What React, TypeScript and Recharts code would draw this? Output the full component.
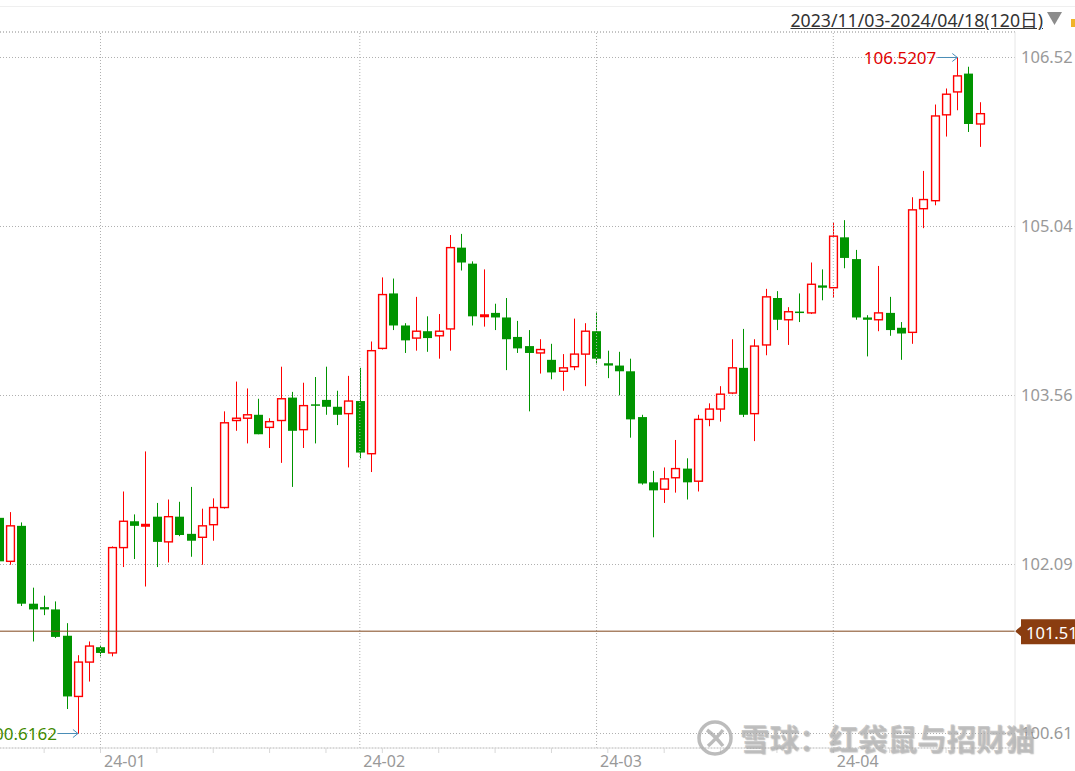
import React from "react";
import {
  ComposedChart,
  Bar,
  XAxis,
  YAxis,
  CartesianGrid,
  ReferenceLine,
  ReferenceDot,
} from "recharts";

// daily candles, 2023-12-19 .. 2024-04-18 (visible part of the 120-day window)
const dates = [
  "2023-12-19", "2023-12-20", "2023-12-21", "2023-12-22", "2023-12-25", "2023-12-26", "2023-12-27", "2023-12-28", "2023-12-29",
  "2024-01-01", "2024-01-02", "2024-01-03", "2024-01-04", "2024-01-05", "2024-01-08", "2024-01-09", "2024-01-10", "2024-01-11",
  "2024-01-12", "2024-01-15", "2024-01-16", "2024-01-17", "2024-01-18", "2024-01-19", "2024-01-22", "2024-01-23", "2024-01-24",
  "2024-01-25", "2024-01-26", "2024-01-29", "2024-01-30", "2024-01-31",
  "2024-02-01", "2024-02-02", "2024-02-05", "2024-02-06", "2024-02-07", "2024-02-08", "2024-02-09", "2024-02-12", "2024-02-13",
  "2024-02-14", "2024-02-15", "2024-02-16", "2024-02-19", "2024-02-20", "2024-02-21", "2024-02-22", "2024-02-23", "2024-02-26",
  "2024-02-27", "2024-02-28", "2024-02-29",
  "2024-03-01", "2024-03-04", "2024-03-05", "2024-03-06", "2024-03-07", "2024-03-08", "2024-03-11", "2024-03-12", "2024-03-13",
  "2024-03-14", "2024-03-15", "2024-03-18", "2024-03-19", "2024-03-20", "2024-03-21", "2024-03-22", "2024-03-25", "2024-03-26",
  "2024-03-27", "2024-03-28", "2024-03-29",
  "2024-04-01", "2024-04-02", "2024-04-03", "2024-04-04", "2024-04-05", "2024-04-08", "2024-04-09", "2024-04-10", "2024-04-11",
  "2024-04-12", "2024-04-15", "2024-04-16", "2024-04-17", "2024-04-18",
];

const opens = [
  102.5, 102.12, 102.43, 101.75, 101.72, 101.7, 101.47, 100.94, 101.24,
  101.37, 101.32, 102.24, 102.47, 102.43, 102.51, 102.29, 102.51, 102.36, 102.33, 102.44, 102.59, 103.35, 103.37, 103.4,
  103.29, 103.35, 103.55, 103.27, 103.49, 103.53, 103.47, 103.41,
  103.52, 103.06, 103.98, 104.46, 104.18, 104.07, 104.13, 104.09, 104.15, 104.86, 104.72, 104.26, 104.29, 104.25, 104.08,
  104.0, 103.94, 103.88, 103.78, 103.82, 103.93,
  104.13, 103.85, 103.83, 103.78, 103.38, 102.81, 102.75, 102.85, 102.93, 102.82, 103.36, 103.45, 103.59, 103.81, 103.41,
  104.01, 104.42, 104.23, 104.3, 104.29, 104.53,
  104.51, 104.95, 104.76, 104.25, 104.23, 104.29, 104.16, 104.12, 105.2, 105.27, 106.02, 106.22, 106.38, 105.94,
];

const highs = [
  102.57, 102.55, 102.46, 101.89, 101.82, 101.77, 101.58, 101.3, 101.42,
  101.39, 102.25, 102.73, 102.53, 103.08, 102.63, 102.66, 102.64, 102.77, 102.58, 102.67, 103.43, 103.69, 103.63, 103.54,
  103.37, 103.82, 103.6, 103.68, 103.73, 103.82, 103.61, 103.74,
  103.81, 104.04, 104.6, 104.59, 104.2, 104.43, 104.26, 104.28, 104.97, 104.98, 104.74, 104.67, 104.37, 104.42, 104.22,
  104.14, 104.06, 104.02, 103.93, 104.24, 104.2,
  104.3, 103.96, 103.95, 103.89, 103.4, 102.91, 102.94, 103.18, 103.02, 103.4, 103.5, 103.65, 104.06, 104.15, 104.06,
  104.5, 104.48, 104.34, 104.46, 104.73, 104.67,
  105.08, 105.1, 104.84, 104.27, 104.7, 104.43, 104.21, 105.3, 105.53, 106.11, 106.25, 106.5207, 106.44, 106.13,
];

const lows = [
  102.08, 102.09, 101.73, 101.42, 101.65, 101.45, 100.83, 100.6162, 101.07,
  101.29, 101.29, 102.07, 102.14, 101.9, 102.07, 102.11, 102.34, 102.16, 102.09, 102.3, 102.58, 103.26, 103.15, 103.23,
  103.11, 102.98, 102.77, 103.11, 103.15, 103.4, 103.31, 102.94,
  103.02, 102.9, 103.97, 104.14, 103.94, 103.96, 103.95, 103.89, 103.96, 104.66, 104.18, 104.17, 104.14, 103.79, 103.94,
  103.43, 103.76, 103.71, 103.61, 103.79, 103.65,
  103.84, 103.72, 103.57, 103.2, 102.79, 102.33, 102.63, 102.72, 102.66, 102.73, 103.3, 103.34, 103.58, 103.38, 103.17,
  103.92, 104.14, 104.01, 104.21, 104.28, 104.4,
  104.42, 104.68, 104.23, 103.91, 104.13, 104.09, 103.88, 104.02, 105.03, 105.23, 105.83, 106.06, 105.87, 105.74,
];

const closes = [
  102.12, 102.43, 101.75, 101.7, 101.7, 101.46, 100.94, 101.24, 101.38,
  101.32, 102.24, 102.47, 102.43, 102.44, 102.29, 102.51, 102.35, 102.3, 102.43, 102.59, 103.33, 103.37, 103.4, 103.23,
  103.34, 103.54, 103.26, 103.48, 103.48, 103.47, 103.4, 103.52,
  103.07, 103.96, 104.45, 104.18, 104.05, 104.13, 104.07, 104.13, 104.86, 104.73, 104.26, 104.27, 104.25, 104.06, 103.98,
  103.94, 103.97, 103.77, 103.81, 103.93, 104.13,
  103.89, 103.83, 103.78, 103.36, 102.8, 102.74, 102.84, 102.93, 102.81, 103.36, 103.45, 103.58, 103.81, 103.4, 104.0,
  104.43, 104.23, 104.3, 104.29, 104.54, 104.51,
  104.96, 104.77, 104.25, 104.23, 104.29, 104.14, 104.11, 105.19, 105.28, 106.01, 106.2, 106.36, 105.94, 106.03,
];

const monthStarts = ["2024-01-01", "2024-02-01", "2024-03-01", "2024-04-01"];
const monthLabels = ["24-01", "24-02", "24-03", "24-04"];
const lastPrice = 101.51;
const rangeText = "2023/11/03-2024/04/18(120日)";
const watermark = "雪球：红袋鼠与招财猫";

const UP = "#ff0000";
const DOWN = "#009400";
const GRID = "#b0b0b0";
const FONT = "'Noto Sans', 'Noto Sans CJK SC', sans-serif";

const rows = dates.map((d, i) => ({
  i,
  date: d,
  open: opens[i],
  high: highs[i],
  low: lows[i],
  close: closes[i],
}));

const hi = Math.max(...highs);
const lo = Math.min(...lows);
const hiIdx = highs.indexOf(hi);
const loIdx = lows.indexOf(lo);
const yTicks = [0, 1, 2, 3, 4].map((k) => lo + ((hi - lo) * k) / 4);
const yDomain = [100.4896, 106.7434];
const xDomain = [0.086, 90.116];

const monthIdx = monthStarts.map((d) => dates.indexOf(d));
const mondayIdx = dates
  .map((d, i) => (new Date(d + "T00:00:00Z").getUTCDay() === 1 ? i : -1))
  .filter((i) => i >= 0);
const xTicks = Array.from(new Set([...mondayIdx, ...monthIdx])).sort((a, b) => a - b);

const trunc2 = (v: number) => (Math.floor(v * 100 + 1e-6) / 100).toFixed(2);

const Candle = (p: any) => {
  const { x, y, width, height, payload } = p;
  if (x == null || y == null) return null;
  const { open, close, high, low } = payload;
  const cx = Math.round(x + width / 2) + 0.5;
  const k = high - low > 0 ? height / (high - low) : 0;
  const yv = (v: number) => y + (high - v) * k;
  const up = close >= open;
  const color = up ? UP : DOWN;
  const top = yv(Math.max(open, close));
  const bot = yv(Math.min(open, close));
  const bh = bot - top;
  if (bh < 1.6) {
    return (
      <g>
        <line x1={cx} x2={cx} y1={yv(high)} y2={yv(low)} stroke={color} strokeWidth={1} />
        <line x1={cx - 4.5} x2={cx + 4.5} y1={(top + bot) / 2} y2={(top + bot) / 2} stroke={color} strokeWidth={up && bh > 0.8 ? 3 : 1.5} />
      </g>
    );
  }
  if (up) {
    return (
      <g>
        <line x1={cx} x2={cx} y1={yv(high)} y2={top} stroke={color} strokeWidth={1} />
        <line x1={cx} x2={cx} y1={bot} y2={yv(low)} stroke={color} strokeWidth={1} />
        <rect x={cx - 3.9} y={top} width={7.8} height={bh} fill="#fff" stroke={color} strokeWidth={1.4} />
      </g>
    );
  }
  return (
    <g>
      <line x1={cx} x2={cx} y1={yv(high)} y2={yv(low)} stroke={color} strokeWidth={1} />
      <rect x={cx - 4.5} y={top} width={9} height={bh} fill={color} />
    </g>
  );
};

const PeakTag = ({ cx, cy, text, color }: any) => (
  <g>
    <line x1={cx - 20} y1={cy} x2={cx} y2={cy} stroke="#4a8db7" strokeWidth={1} />
    <polyline
      points={`${cx - 5},${cy - 4} ${cx},${cy} ${cx - 5},${cy + 4}`}
      fill="none"
      stroke="#4a8db7"
      strokeWidth={1}
    />
    <text
      x={cx - 21}
      y={cy}
      textAnchor="end"
      dominantBaseline="central"
      fill={color}
      fontSize={17}
      fontFamily={FONT}
    >
      {text}
    </text>
  </g>
);

const PriceTag = (props: any) => {
  const vb = props.viewBox || {};
  const x = vb.x + vb.width;
  const y = vb.y;
  return (
    <g>
      <polygon
        points={`${x},${y} ${x + 6},${y - 5} ${x + 6},${y - 12} ${x + 70},${y - 12} ${x + 70},${y + 13} ${x + 6},${y + 13} ${x + 6},${y + 5}`}
        fill="#8a3d10"
      />
      <text x={x + 11} y={y + 1} dominantBaseline="central" fill="#fff" fontSize={16.5} fontFamily={FONT}>
        {lastPrice.toFixed(2)}
      </text>
    </g>
  );
};

const DateTick = (props: any) => {
  const { x, y, payload } = props;
  const v = payload.value;
  const m = monthIdx.indexOf(v);
  return (
    <g>
      {mondayIdx.includes(v) && <line x1={x} x2={x} y1={y} y2={y + 5} stroke="#d8d8d8" />}
      {m >= 0 && (
        <text x={x + 3.5} y={y + 13} textAnchor="start" dominantBaseline="central" fill="#999" fontSize={16} fontFamily={FONT}>
          {monthLabels[m]}
        </text>
      )}
    </g>
  );
};

export default function App() {
  return (
    <div
      style={{
        position: "absolute",
        left: 0,
        top: 0,
        width: 1075,
        height: 771,
        background: "#fff",
        overflow: "hidden",
        fontFamily: FONT,
      }}
    >
      <div style={{ position: "absolute", left: 0, top: 6, width: 1075, height: 1, background: "#efefef" }} />
      <div
        style={{
          position: "absolute",
          right: 32,
          top: 10,
          fontSize: 17.7,
          lineHeight: "20px",
          color: "#333",
          textDecoration: "underline",
          whiteSpace: "nowrap",
        }}
      >
        {rangeText}
      </div>
      <svg style={{ position: "absolute", left: 0, top: 0 }} width={1075} height={32}>
        <polygon points="1047,12 1062,12 1054.5,25" fill="#8c8c8c" />
        <rect x={1071} y={19} width={4} height={8} fill="#f0b429" />
      </svg>

      <div style={{ position: "absolute", left: 0, top: 0 }}>
        <ComposedChart
          width={1075}
          height={771}
          data={rows}
          margin={{ top: 32, right: 0, bottom: 0, left: 0 }}
        >
          <CartesianGrid vertical={false} stroke={GRID} strokeDasharray="1 2" />
          <XAxis
            type="number"
            dataKey="i"
            domain={xDomain}
            allowDataOverflow
            ticks={xTicks}
            interval={0}
            tick={<DateTick />}
            tickLine={false}
            tickSize={0}
            tickMargin={0}
            axisLine={{ stroke: "#dcdcdc" }}
            height={23}
          />
          <YAxis
            orientation="right"
            type="number"
            domain={yDomain}
            allowDataOverflow
            ticks={yTicks}
            interval={0}
            tickFormatter={trunc2}
            tickLine={false}
            tickSize={0}
            tickMargin={6}
            axisLine={{ stroke: "#e6e6e6" }}
            width={60}
            tick={{ fill: "#999", fontSize: 16.5, fontFamily: FONT }}
          />
          <ReferenceLine y={yDomain[1]} stroke={GRID} strokeDasharray="1 2" />
          {monthIdx.map((m) => (
            <ReferenceLine key={m} x={m} stroke={GRID} strokeDasharray="1 2" />
          ))}
          <ReferenceLine y={lastPrice} stroke="#80461b" strokeWidth={1} label={(p: any) => <PriceTag {...p} />} />
          <Bar
            dataKey={(d: any) => [d.low, d.high]}
            barSize={9}
            shape={(p: any) => <Candle {...p} />}
            isAnimationActive={false}
          />
          <ReferenceDot
            x={hiIdx}
            y={hi}
            shape={(p: any) => <PeakTag cx={p.cx} cy={p.cy} text={hi.toFixed(4)} color="#e00000" />}
          />
          <ReferenceDot
            x={loIdx}
            y={lo}
            shape={(p: any) => <PeakTag cx={p.cx} cy={p.cy} text={lo.toFixed(4)} color="#3f8a00" />}
          />
        </ComposedChart>
      </div>

      <svg style={{ position: "absolute", left: 696, top: 719 }} width={40} height={38}>
        <circle cx={19} cy={19} r={16} fill="none" stroke="rgba(165,165,165,0.75)" strokeWidth={3.5} />
        <path d="M11 11 Q19 17 27 27 M27 11 Q19 21 12 27" fill="none" stroke="rgba(165,165,165,0.75)" strokeWidth={3.5} />
      </svg>
      <div
        style={{
          position: "absolute",
          left: 740,
          top: 721,
          fontSize: 29.5,
          lineHeight: "32px",
          fontWeight: 700,
          color: "rgba(185,185,185,0.75)",
          textShadow: "1px 1px 1px rgba(110,110,110,0.4)",
          fontFamily: "'Noto Sans CJK SC', sans-serif",
          whiteSpace: "nowrap",
        }}
      >
        {watermark}
      </div>
    </div>
  );
}
